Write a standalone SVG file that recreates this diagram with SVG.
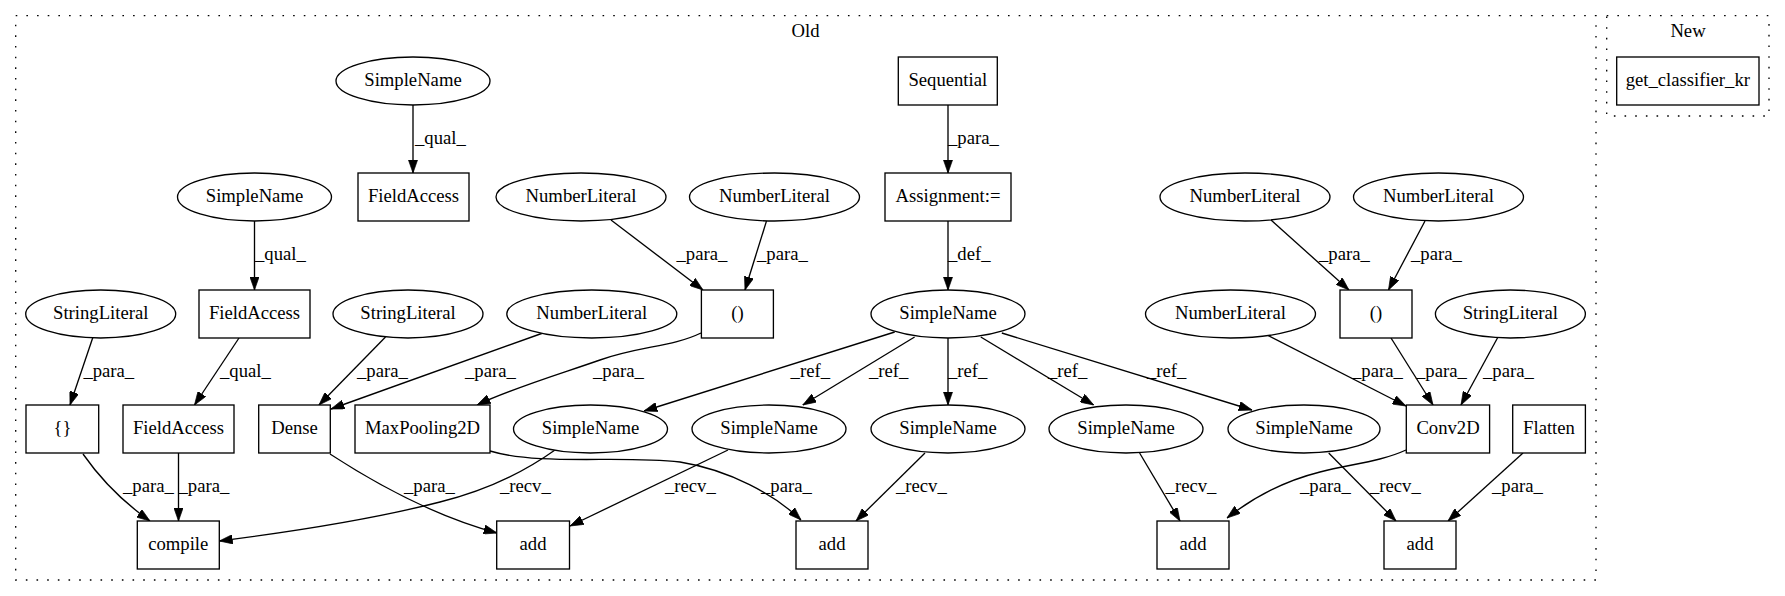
<svg xmlns="http://www.w3.org/2000/svg" width="1785" height="596" viewBox="0 0 1785 596" font-family="'Liberation Serif', 'Times New Roman', Times, serif" font-size="18.67">
<style>
text{font-family:'Liberation Serif','Times New Roman',Times,serif;font-size:18.67px;fill:#000}
.n text{text-anchor:middle}
.n rect,.n ellipse{fill:#fff;stroke:#000;stroke-width:1.33}
.cl{fill:none;stroke:#000;stroke-width:1.33;stroke-dasharray:1.6,9.07}
.e path{fill:none;stroke:#000;stroke-width:1.33;marker-end:url(#ah)}
.lbl{text-anchor:start}
</style>
<defs>
<marker id="ah" viewBox="0 0 10 7" refX="10" refY="3.5" markerUnits="userSpaceOnUse" markerWidth="13.3" markerHeight="9.3" orient="auto">
<polygon points="0,0 10,3.5 0,7" fill="#000" stroke="#000" stroke-width="0.5"/>
</marker>
</defs>
<rect width="1785" height="596" fill="#fff"/>
<g id="cluster_old">
<rect class="cl" x="15.7" y="15.7" width="1580.3" height="564.3"/>
<text x="805.5" y="37" text-anchor="middle">Old</text>
</g>
<g id="cluster_new">
<rect class="cl" x="1606.7" y="15.7" width="162.3" height="100.3"/>
<text x="1688" y="37" text-anchor="middle">New</text>
</g>

<g id="edges" class="e">
<path d="M413,105 L413,173"/>
<path d="M254.5,221 L254.5,290"/>
<path d="M948,105 L948,173"/>
<path d="M948,221 L948,290"/>
<path d="M611,220 L703,290"/>
<path d="M766.5,221 L745,290"/>
<path d="M1271,220 L1349,290"/>
<path d="M1425,221 L1388.5,290"/>
<path d="M93,337 L70,405"/>
<path d="M239,338 L194.5,405"/>
<path d="M385.5,337 L319,405"/>
<path d="M543,333 L331,409"/>
<path d="M701,333 C672,347 640,346 600,360 C560,374 510,389 477,405"/>
<path d="M894.7,332 L644,411"/>
<path d="M914.6,337 L802.8,405"/>
<path d="M948,338 L948,405"/>
<path d="M980.8,337 L1093.7,405"/>
<path d="M1001.8,333 L1252,410"/>
<path d="M83,454 C97,474 116,497 150,521"/>
<path d="M178.5,453 L178.5,521"/>
<path d="M555,450 C520,475 480,492 440,502 C370,520 290,532 219.3,541"/>
<path d="M330,454 C370,480 430,515 497,533"/>
<path d="M728,450 L570,526"/>
<path d="M490,451 C540,466 620,455 680,462 C730,470 775,495 801,520"/>
<path d="M925,453 L856,521"/>
<path d="M1139.6,453 L1180,521"/>
<path d="M1406,450 C1380,462 1350,464 1320,472 C1280,482 1250,500 1227,518"/>
<path d="M1328.7,453 L1396,521"/>
<path d="M1523,453 L1448,521"/>
<path d="M1267,335 L1406,406"/>
<path d="M1391,338 L1433,405"/>
<path d="M1498,337 L1461,405"/>
<text class="lbl" x="415" y="144">_qual_</text>
<text class="lbl" x="255" y="260">_qual_</text>
<text class="lbl" x="948" y="144">_para_</text>
<text class="lbl" x="948" y="260">_def_</text>
<text class="lbl" x="676.5" y="260">_para_</text>
<text class="lbl" x="757" y="260">_para_</text>
<text class="lbl" x="1319" y="260">_para_</text>
<text class="lbl" x="1411" y="260">_para_</text>
<text class="lbl" x="83.4" y="377">_para_</text>
<text class="lbl" x="220" y="377">_qual_</text>
<text class="lbl" x="357" y="377">_para_</text>
<text class="lbl" x="465" y="377">_para_</text>
<text class="lbl" x="593" y="377">_para_</text>
<text class="lbl" x="790.6" y="377">_ref_</text>
<text class="lbl" x="869" y="377">_ref_</text>
<text class="lbl" x="948" y="377">_ref_</text>
<text class="lbl" x="1048" y="377">_ref_</text>
<text class="lbl" x="1147" y="377">_ref_</text>
<text class="lbl" x="1352" y="377">_para_</text>
<text class="lbl" x="1416" y="377">_para_</text>
<text class="lbl" x="1483" y="377">_para_</text>
<text class="lbl" x="123" y="492">_para_</text>
<text class="lbl" x="178.5" y="492">_para_</text>
<text class="lbl" x="500" y="492">_recv_</text>
<text class="lbl" x="404" y="492">_para_</text>
<text class="lbl" x="665" y="492">_recv_</text>
<text class="lbl" x="761" y="492">_para_</text>
<text class="lbl" x="896" y="492">_recv_</text>
<text class="lbl" x="1165.6" y="492">_recv_</text>
<text class="lbl" x="1300" y="492">_para_</text>
<text class="lbl" x="1370" y="492">_recv_</text>
<text class="lbl" x="1492" y="492">_para_</text>
</g>

<g class="n">
<g id="sn_top"><ellipse cx="413" cy="81" rx="77" ry="24"/><text x="413" y="86">SimpleName</text></g>
<g id="sequential"><rect x="898.3" y="57" width="99" height="48"/><text x="947.8" y="86">Sequential</text></g>
<g id="get_classifier_kr"><rect x="1616.7" y="57" width="142.3" height="48"/><text x="1687.8" y="86">get_classifier_kr</text></g>

<g id="fa_top"><rect x="358" y="173" width="111" height="48"/><text x="413.5" y="202">FieldAccess</text></g>
<g id="sn2"><ellipse cx="254.5" cy="197" rx="77" ry="24"/><text x="254.5" y="202">SimpleName</text></g>
<g id="nl1"><ellipse cx="581" cy="197" rx="85" ry="24"/><text x="581" y="202">NumberLiteral</text></g>
<g id="nl2"><ellipse cx="774.5" cy="197" rx="85" ry="24"/><text x="774.5" y="202">NumberLiteral</text></g>
<g id="assign"><rect x="885" y="173" width="126" height="48"/><text x="948" y="202">Assignment:=</text></g>
<g id="nl3"><ellipse cx="1245" cy="197" rx="85" ry="24"/><text x="1245" y="202">NumberLiteral</text></g>
<g id="nl4"><ellipse cx="1438.5" cy="197" rx="85" ry="24"/><text x="1438.5" y="202">NumberLiteral</text></g>

<g id="sl1"><ellipse cx="100.7" cy="314" rx="75" ry="24"/><text x="100.7" y="319">StringLiteral</text></g>
<g id="fa2"><rect x="199" y="290" width="111" height="48"/><text x="254.5" y="319">FieldAccess</text></g>
<g id="sl2"><ellipse cx="408" cy="314" rx="75" ry="24"/><text x="408" y="319">StringLiteral</text></g>
<g id="nl5"><ellipse cx="591.8" cy="314" rx="85" ry="24"/><text x="591.8" y="319">NumberLiteral</text></g>
<g id="paren1"><rect x="701.4" y="290" width="72" height="48"/><text x="737.4" y="319">()</text></g>
<g id="sn_main"><ellipse cx="948" cy="314" rx="77" ry="24"/><text x="948" y="319">SimpleName</text></g>
<g id="nl6"><ellipse cx="1230.5" cy="314" rx="85" ry="24"/><text x="1230.5" y="319">NumberLiteral</text></g>
<g id="paren2"><rect x="1340" y="290" width="72" height="48"/><text x="1376" y="319">()</text></g>
<g id="sl3"><ellipse cx="1510.4" cy="314" rx="75" ry="24"/><text x="1510.4" y="319">StringLiteral</text></g>

<g id="braces"><rect x="26" y="405" width="72.7" height="48"/><text x="62.4" y="434">{}</text></g>
<g id="fa3"><rect x="123" y="405" width="111" height="48"/><text x="178.5" y="434">FieldAccess</text></g>
<g id="dense"><rect x="258.7" y="405" width="71.6" height="48"/><text x="294.5" y="434">Dense</text></g>
<g id="maxpool"><rect x="355" y="405" width="135" height="48"/><text x="422.5" y="434">MaxPooling2D</text></g>
<g id="snr1"><ellipse cx="590.5" cy="429" rx="77" ry="24"/><text x="590.5" y="434">SimpleName</text></g>
<g id="snr2"><ellipse cx="769" cy="429" rx="77" ry="24"/><text x="769" y="434">SimpleName</text></g>
<g id="snr3"><ellipse cx="948" cy="429" rx="77" ry="24"/><text x="948" y="434">SimpleName</text></g>
<g id="snr4"><ellipse cx="1126" cy="429" rx="77" ry="24"/><text x="1126" y="434">SimpleName</text></g>
<g id="snr5"><ellipse cx="1304" cy="429" rx="76" ry="24"/><text x="1304" y="434">SimpleName</text></g>
<g id="conv2d"><rect x="1406.3" y="405" width="83.3" height="48"/><text x="1448" y="434">Conv2D</text></g>
<g id="flatten"><rect x="1512.7" y="405" width="72.7" height="48"/><text x="1549" y="434">Flatten</text></g>

<g id="compile"><rect x="137.3" y="521" width="82" height="48"/><text x="178.3" y="550">compile</text></g>
<g id="add1"><rect x="496.7" y="521" width="72.8" height="48"/><text x="533" y="550">add</text></g>
<g id="add2"><rect x="796" y="521" width="72" height="48"/><text x="832" y="550">add</text></g>
<g id="add3"><rect x="1157" y="521" width="72" height="48"/><text x="1193" y="550">add</text></g>
<g id="add4"><rect x="1384" y="521" width="72" height="48"/><text x="1420" y="550">add</text></g>
</g>
</svg>
